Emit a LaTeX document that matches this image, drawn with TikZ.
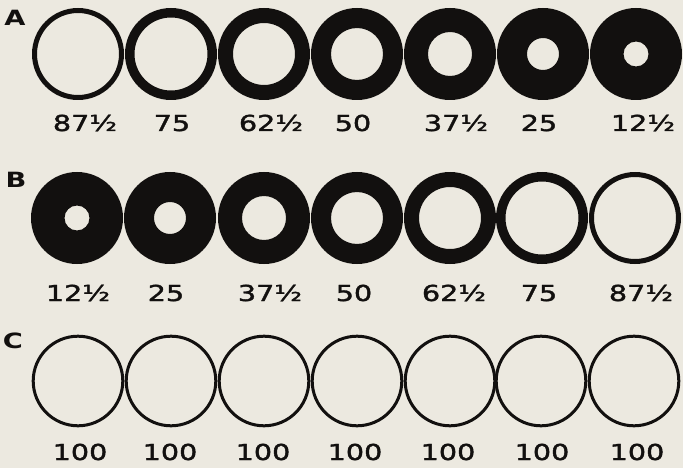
\documentclass[tikz,border=0pt]{standalone}
\usepackage{fontspec}
\setmainfont{DejaVu Sans}
\newfontfamily\lblfont[FakeBold=1.5]{DejaVu Sans}
\definecolor{paper}{RGB}{236,233,224}
\definecolor{ink}{RGB}{18,16,15}
\tikzset{
  lbl/.style={font=\lblfont\fontsize{22}{22}\selectfont, text=ink, inner sep=0pt, anchor=base},
  rowletter/.style={font=\bfseries\fontsize{21}{21}\selectfont, text=ink, inner sep=0pt},
  ringfill/.style={fill=ink, even odd rule},
  thinring/.style={draw=ink, line width=3pt}
}
\newcommand{\wide}[1]{\scalebox{1.3}[1]{#1}}
\begin{document}
\begin{tikzpicture}[x=1pt,y=-1pt]
\fill[paper] (0,0) rectangle (683,468);
\useasboundingbox (0,0) rectangle (683,468);
% row letters
\node[rowletter] (la) at (15,18) {\wide{A}};
\node[rowletter] (lb) at (16,180) {\wide{B}};
\node[rowletter] (lc) at (13,341) {\wide{C}};
% row A
\foreach \x/\r/\t/\lx [count=\k] in {78/41/87½/85, 171/36.5/75/172, 264/31/62½/271, 357/26/50/353, 450/22/37½/456, 543/16/25/539, 636/12.5/12½/643}{
  \coordinate (a\k) at (\x,54);
  \fill[ringfill] (a\k) circle (46pt) (a\k) circle (\r pt);
  \node[lbl] (ta\k) at (\lx,131) {\wide{\t}};
}
% row B
\foreach \x/\r/\t/\lx [count=\k] in {77/12.5/12½/78, 170/16/25/166, 264/22/37½/270, 357/26/50/354, 450/31/62½/454, 542/36.5/75/539, 635/41/87½/641}{
  \coordinate (b\k) at (\x,218);
  \fill[ringfill] (b\k) circle (46pt) (b\k) circle (\r pt);
  \node[lbl] (tb\k) at (\lx,301) {\wide{\t}};
}
% row C
\foreach \x/\lx [count=\k] in {78/80, 171/170, 264/263, 357/355, 450/448, 541/542, 634/637}{
  \coordinate (c\k) at (\x,381);
  \draw[thinring] (c\k) circle (44.8pt);
  \node[lbl] (tc\k) at (\lx,460) {\wide{100}};
}
\end{tikzpicture}
\end{document}
